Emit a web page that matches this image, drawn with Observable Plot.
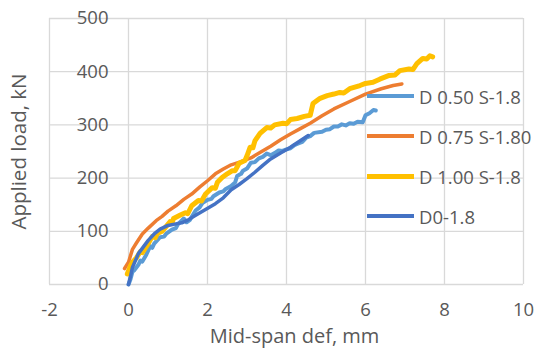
<!DOCTYPE html>
<html>
<head>
<meta charset="utf-8">
<script src="https://cdn.jsdelivr.net/npm/d3@7"></script>
<script src="https://cdn.jsdelivr.net/npm/@observablehq/plot@0.6"></script>
<style>
  html, body { margin: 0; padding: 0; background: #ffffff; }
  #wrap { position: relative; width: 536px; height: 350px; font-family: "Open Sans", sans-serif; color: #595959; }
  #legend { position: absolute; left: 366px; top: 76px; }
  .row { height: 40px; display: flex; align-items: center; white-space: nowrap; font-size: 18.5px; }
  .sw { width: 47px; margin-left: 1px; margin-right: 5px; }
</style>
</head>
<body>
<div id="wrap"><div id="legend"></div></div>
<script>
const xTicks = [-2, 0, 2, 4, 6, 8, 10];
const yTicks = [0, 100, 200, 300, 400, 500];

const seriesNames = ["D 0.50 S-1.8", "D 0.75 S-1.80", "D 1.00 S-1.8", "D0-1.8"];
const seriesColors = ["#5B9BD5", "#ED7D31", "#FFC000", "#4472C4"];

// [deflection mm, load kN]
const d050 = [[0,0],[0.05,10],[0.1,24],[0.15,27],[0.25,37],[0.3,45],[0.35,43],[0.45,56],[0.55,72],[0.6,69],[0.65,77],[0.8,89],[0.9,90],[0.95,95],[1.1,103],[1.2,106],[1.25,113],[1.4,124],[1.47,117],[1.55,121],[1.7,139],[1.8,145],[1.87,153],[2.0,159],[2.1,161],[2.15,166],[2.3,173],[2.4,175],[2.45,179],[2.6,185],[2.7,192],[2.75,204],[2.85,208],[2.9,214],[3.0,218],[3.1,229],[3.2,230],[3.3,237],[3.4,240],[3.5,246],[3.6,243],[3.7,247],[3.8,252],[3.9,251],[4.0,254],[4.1,256],[4.2,262],[4.3,265],[4.4,268],[4.5,276],[4.6,279],[4.7,285],[4.9,287],[5.0,291],[5.1,292],[5.2,297],[5.3,297],[5.4,301],[5.5,299],[5.6,303],[5.7,302],[5.8,306],[5.93,305],[6.0,318],[6.1,322],[6.2,328],[6.26,327]];
const d075 = [[-0.1,30],[0,42],[0.1,66],[0.2,78],[0.35,95],[0.5,106],[0.7,120],[0.85,128],[1.0,138],[1.2,148],[1.4,160],[1.6,170],[1.8,183],[2.0,195],[2.2,208],[2.4,217],[2.6,225],[2.85,231],[3.1,238],[3.35,249],[3.6,260],[3.85,272],[4.1,283],[4.35,293],[4.6,303],[4.9,317],[5.2,330],[5.6,344],[6.0,358],[6.4,368],[6.7,374],[6.92,377]];
const d100 = [[-0.03,20],[0.05,35],[0.1,42],[0.2,50],[0.3,62],[0.35,60],[0.5,77],[0.6,90],[0.68,88],[0.73,96],[0.85,100],[0.93,107],[1.05,118],[1.1,115],[1.14,124],[1.3,130],[1.44,135],[1.5,133],[1.6,148],[1.77,158],[1.85,157],[1.95,170],[2.12,182],[2.2,181],[2.25,192],[2.37,201],[2.5,208],[2.63,214],[2.7,214],[2.8,228],[2.95,233],[3.0,242],[3.08,258],[3.15,257],[3.2,270],[3.33,284],[3.5,295],[3.6,294],[3.7,300],[3.91,303],[4.0,302],[4.1,310],[4.27,312],[4.45,316],[4.6,318],[4.67,340],[4.85,350],[5.03,355],[5.2,358],[5.35,361],[5.45,360],[5.6,368],[5.86,374],[6.0,378],[6.19,380],[6.36,386],[6.6,393],[6.75,394],[6.87,402],[7.1,405],[7.2,404],[7.3,415],[7.45,425],[7.55,424],[7.63,430],[7.7,428]];
const d0 = [[0,0],[0.05,15],[0.1,32],[0.25,58],[0.4,73],[0.5,83],[0.65,95],[0.8,104],[1.0,111],[1.2,114],[1.35,116],[1.5,121],[1.7,130],[1.95,141],[2.2,152],[2.4,163],[2.6,178],[2.8,188],[3.0,199],[3.2,211],[3.4,224],[3.6,236],[3.85,247],[4.1,258],[4.3,268],[4.55,280]];

const seriesData = [d050, d075, d100, d0];
const lineWidths = [4, 3.5, 5, 3.5];

const lineMarks = seriesData.map((pts, i) => Plot.line(pts, {
  x: d => d[0], y: d => d[1],
  stroke: seriesColors[i], strokeWidth: lineWidths[i],
  strokeLinejoin: "round", strokeLinecap: "round"
}));

const chart = Plot.plot({
  width: 536,
  height: 350,
  marginLeft: 49,
  marginRight: 13,
  marginTop: 18,
  marginBottom: 66,
  x: { domain: [-2, 10], axis: null },
  y: { domain: [0, 500], axis: null },
  style: { fontFamily: "Open Sans, sans-serif", fontSize: "18.5px", color: "#595959", background: "transparent" },
  marks: [
    Plot.ruleX(xTicks, { x: d => d, stroke: "#d9d9d9", strokeWidth: 1.3, strokeOpacity: 1 }),
    Plot.ruleY(yTicks, { y: d => d, stroke: "#d9d9d9", strokeWidth: 1.3, strokeOpacity: 1 }),
    ...lineMarks,
    Plot.text(yTicks, { x: 0, y: d => d, text: d => String(d), textAnchor: "end", dx: -20, fill: "#595959", fontSize: 18.5 }),
    Plot.text(xTicks, { x: d => d, y: 0, text: d => String(d), dy: 26, fill: "#595959", fontSize: 18.5 }),
    Plot.text(["Mid-span def, mm"], { frameAnchor: "bottom", textAnchor: "middle", text: d => d, dx: 8, dy: 58, lineAnchor: "bottom", fill: "#595959", fontSize: 20 }),
    Plot.text(["Applied load, kN"], { frameAnchor: "left", textAnchor: "middle", text: d => d, dx: -30, rotate: -90, fill: "#595959", fontSize: 20.5 })
  ]
});
const wrap = document.getElementById("wrap");
wrap.insertBefore(chart, wrap.firstChild);

const legend = document.getElementById("legend");
seriesNames.forEach((name, i) => {
  const row = document.createElement("div");
  row.className = "row";
  const sw = document.createElement("span");
  sw.className = "sw";
  sw.style.background = seriesColors[i];
  sw.style.height = [4, 4, 5, 3.5][i] + "px";
  const t = document.createElement("span");
  t.textContent = name;
  row.appendChild(sw);
  row.appendChild(t);
  legend.appendChild(row);
});
</script>
</body>
</html>
